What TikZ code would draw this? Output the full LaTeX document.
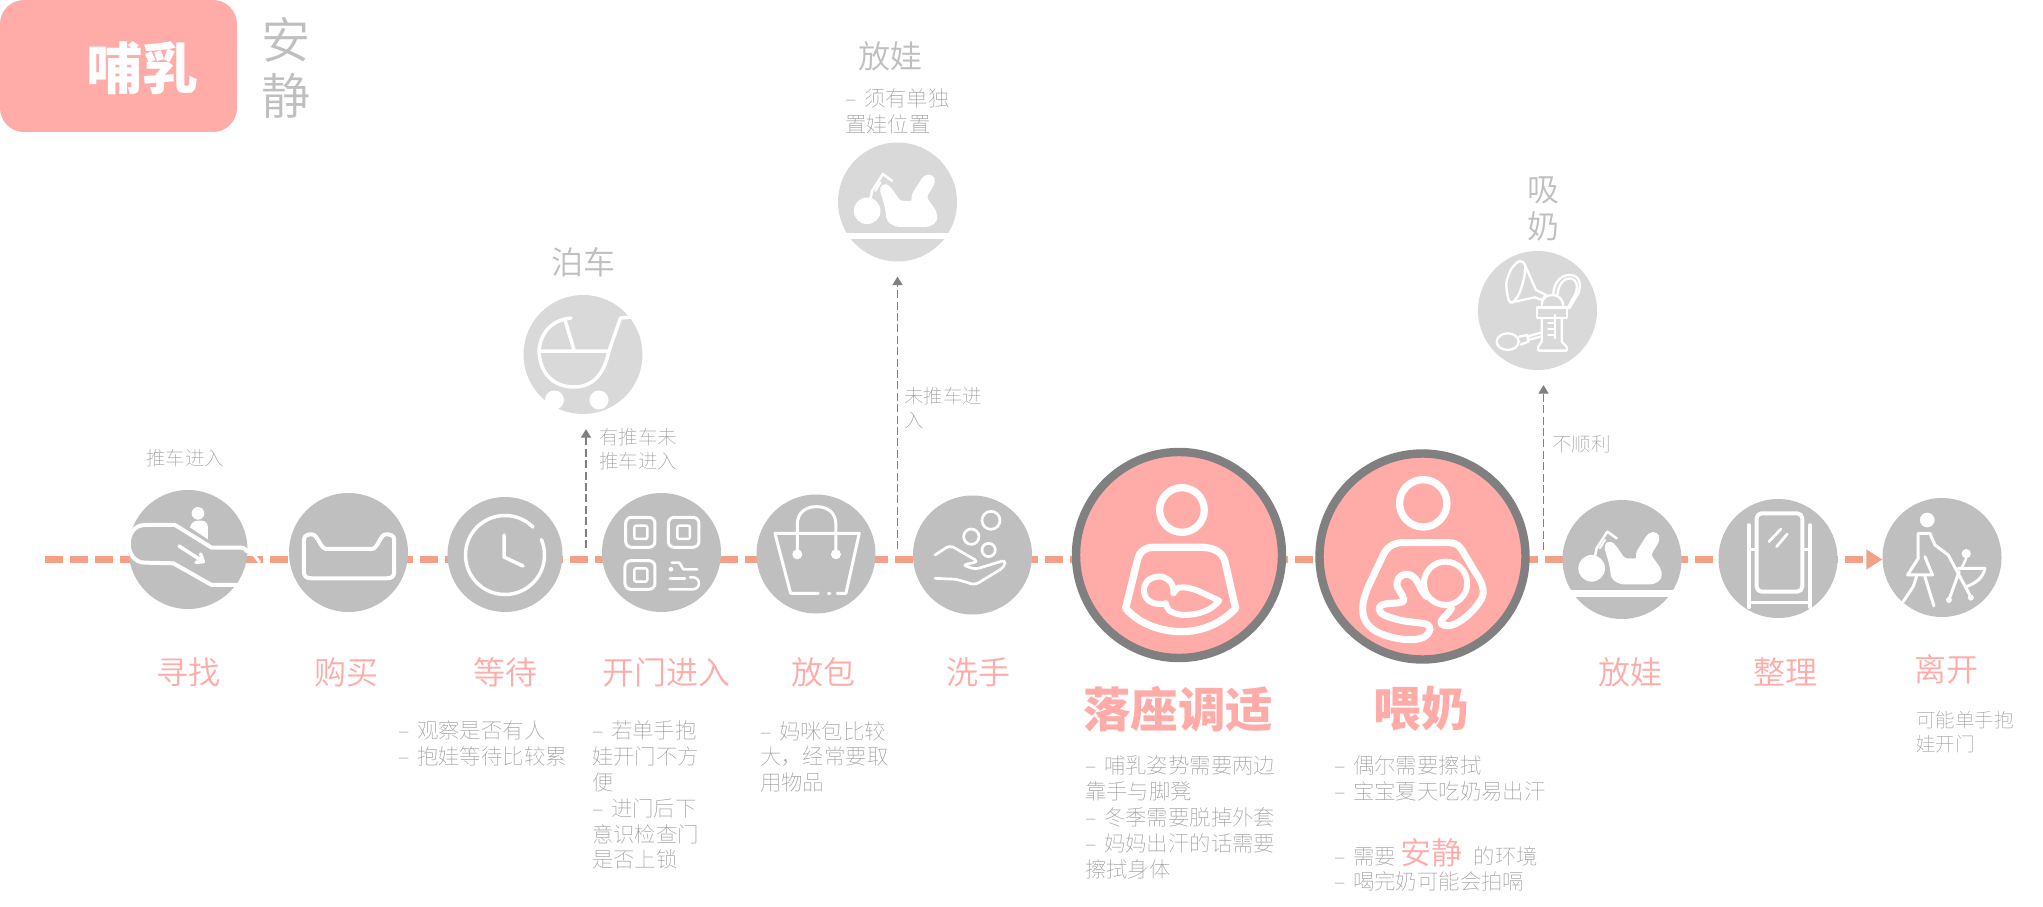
\documentclass[tikz,border=0pt]{standalone}
\usepackage{fontspec}
\usetikzlibrary{arrows.meta,backgrounds}
\setmainfont{Noto Sans CJK SC Thin}
\newfontfamily\cjkdemi{Noto Sans CJK SC DemiLight}
\newfontfamily\cjkbold{Noto Sans CJK SC Black}
\newdimen\pxd \newdimen\pxl
\newcommand{\pxf}[2]{\pxd=1.42264pt \pxd=#1\pxd \pxl=1.42264pt \pxl=#2\pxl \fontsize{\pxd}{\pxl}\selectfont}
\newcommand{\dl}{\makebox[0.89em][l]{–}}
\definecolor{pinkc}{HTML}{FFABA8}
\definecolor{grayc}{HTML}{BFBFBF}
\definecolor{satc}{HTML}{D9D9D9}
\definecolor{ringc}{HTML}{808080}
\definecolor{linec}{HTML}{F4A086}
\definecolor{txtc}{HTML}{999999}
\definecolor{hdc}{HTML}{BFBFBF}
\tikzset{
  base/.style={circle,inner sep=0pt,minimum size=5.95cm},
  stepc/.style={base,fill=grayc},
  satl/.style={base,fill=satc},
  bigc/.style={circle,inner sep=0pt,minimum size=10.3cm,fill=pinkc,draw=ringc,line width=.42cm},
  flow/.style={draw=linec,fill=linec,line width=.35cm,dash pattern=on .915cm off .335cm,-{Triangle[length=.8cm,width=.95cm,fill=linec]}},
  branch/.style={draw=ringc,line width=1.5pt,dash pattern=on .4cm off .17cm,-{Triangle[length=.42cm,width=.5cm,fill=ringc]},shorten >=.75cm},
  hd/.style={inner sep=0pt,text=hdc,font=\cjkdemi\pxf{32}{37}},
  note/.style={inner sep=0pt,text=txtc,align=left,anchor=north west,font=\pxf{19.5}{24}},
  detail/.style={inner sep=0pt,text=txtc,align=left,anchor=north west,font=\pxf{21.4}{25.8}},
  lab/.style={inner sep=0pt,text=pinkc,font=\cjkdemi\pxf{32}{37}},
  biglab/.style={inner sep=0pt,text=pinkc,font=\cjkbold\pxf{47.5}{50}},
  zoomed/.style={x=.016667cm,y=-.016667cm},
  ic/.style={draw=white,line width=#1*.05cm,line cap=round,line join=round},
  ic/.default=4
}
\newcommand{\babyicon}{%
  \fill[white] (125,265) circle [x radius=40,y radius=40];
  \filldraw[white,line width=.15cm,line join=round,rounded corners=5] (166,197) -- (180,186) -- (195,200) -- (222,240) -- (266,240) -- (260,222) -- (298,162) -- (320,160) -- (326,178) -- (298,225) -- (329,268) -- (332,294) -- (310,309) -- (212,309) -- (188,294) -- (183,255) -- cycle;
  \draw[ic=2.5] (135,228) -- (140,205) -- (172,155) -- (200,175);
  \draw[ic=2] (150,205) -- (165,180);
  \draw[white,line width=.32cm] (55,340) -- (378,340);
}
\begin{document}
\begin{tikzpicture}[x=.05cm,y=-.05cm]
\useasboundingbox (0,0) rectangle (2043,907);
% nodes : steps
\node[stepc] (find)  at (188,549.5) {};
\node[stepc] (buy)   at (348.5,552.5) {};
\node[base,fill=grayc,minimum size=5.75cm] (wait) at (505,554.5) {};
\node[stepc] (door)  at (661.5,552.5) {};
\node[stepc] (bag)   at (816,554) {};
\node[stepc] (wash)  at (972.5,555) {};
\node[bigc] (seat)   at (1179,555) {};
\node[bigc] (feed)   at (1422.5,556.5) {};
\node[stepc] (lay)   at (1622,559.5) {};
\node[stepc] (tidy)  at (1778,558.5) {};
\node[stepc] (leave) at (1942,557.5) {};
\node[satl] (stroller) at (583,354.5) {};
\node[satl] (place)    at (897.5,202) {};
\node[satl] (pump)     at (1537.5,310.5) {};
% connectors
\coordinate (start) at (45,559.5);
\coordinate (b1) at (586,548);
\coordinate (b2) at (897.5,549);
\coordinate (b3) at (1543.5,550);
\begin{scope}[on background layer]
  \fill[white] (0,0) rectangle (2043,907);
  \draw[flow] (start) -- (start -| leave.west);
\end{scope}
\draw[branch] (b1) -- (b1 |- stroller.south);
\draw[branch] (b2) -- (b2 |- place.south);
\draw[branch] (b3) -- (b3 |- pump.south);
% tile
\node[fill=pinkc,rounded corners=1.2cm,inner sep=0pt,minimum width=11.85cm,minimum height=6.6cm] (tile) at (118.5,66) {};
\node[inner sep=0pt,text=white,font=\cjkbold\pxf{56}{56}] (tt) at (142.5,68) {哺乳};
\node[inner sep=0pt,text=hdc,align=center,font=\cjkdemi\pxf{49}{56}] (quiet) at (286,67.5) {安\\静};
% top labels
\node[hd] (hstroller) at (583,262) {泊车};
\node[hd] (hplace) at (890,56) {放娃};
\node[hd,align=center] (hpump) at (1543,208.5) {吸\\奶};
\node[note,anchor=center] (n0) at (185,458) {推车进入};
\node[note] (n1) at (599,428) {有推车未\\推车进入};
\node[detail] (d0) at (845,88.5) {\dl 须有单独\\置娃位置};
\node[note] (n2) at (904,387) {未推车进\\入};
\node[note] (n3) at (1552,435) {不顺利};
% step labels
\node[lab] (l1) at (188,672) {寻找};
\node[lab] (l2) at (346.5,672) {购买};
\node[lab] (l3) at (505.5,672) {等待};
\node[lab] (l4) at (666,672) {开门进入};
\node[lab] (l5) at (823,672) {放包};
\node[lab] (l6) at (978,672) {洗手};
\node[biglab] (l7) at (1178,709) {落座调适};
\node[biglab] (l8) at (1421,709) {喂奶};
\node[lab] (l9) at (1630.5,672) {放娃};
\node[lab] (l10) at (1785.5,672) {整理};
\node[lab] (l11) at (1946.5,669.5) {离开};
% details
\node[detail] (d3) at (398,721) {\dl 观察是否有人\\\dl 抱娃等待比较累};
\node[detail] (d4) at (592,721) {\dl 若单手抱\\娃开门不方\\便\\\dl 进门后下\\意识检查门\\是否上锁};
\node[detail] (d5) at (760,721) {\dl 妈咪包比较\\大，经常要取\\用物品};
\node[detail] (d7) at (1085,756) {\dl 哺乳姿势需要两边\\靠手与脚凳\\\dl 冬季需要脱掉外套\\\dl 妈妈出汗的话需要\\擦拭身体};
\node[detail] (d8) at (1334,756) {\dl 偶尔需要擦拭\\\dl 宝宝夏天吃奶易出汗};
\node[detail,anchor=base west] (d8b) at (1334,864) {\dl 需要 {\cjkdemi\color{pinkc}\pxf{31}{30}安静} \hspace{.3em}的环境};
\node[detail] (d8c) at (1334,871) {\dl 喝完奶可能会拍嗝};
\node[note] (n11) at (1916,711) {可能单手抱\\娃开门};
% --- icons ---
% escalator
\begin{scope}[shift={(110,480)},zoomed]
  \draw[ic] (410,213) .. controls (408,205) and (400,203) .. (390,203) -- (305,203) -- (195,135) -- (105,135) .. controls (40,135) and (40,248) .. (105,248) -- (190,250) -- (305,315) -- (378,315);
  \draw[ic=3.5] (207,198) -- (280,245) (258,247) -- (280,245) -- (272,222);
  \fill[white] (264,100) circle [radius=19];
  \fill[white] (240,142) .. controls (245,125) and (255,122) .. (265,122) -- (275,122) .. controls (290,122) and (294,135) .. (294,145) -- (294,178) -- cycle;
  \draw[white,line width=.15cm] (430,222) -- (450,248);
\end{scope}
% sofa
\begin{scope}[shift={(110,480)},zoomed]
  \draw[ic] (582,180) .. controls (582,165) and (595,163) .. (605,163) .. controls (625,163) and (630,207) .. (650,207) -- (785,207) .. controls (805,207) and (810,163) .. (828,163) .. controls (840,163) and (853,165) .. (853,180) -- (853,275) .. controls (853,290) and (845,295) .. (830,295) -- (605,295) .. controls (590,295) and (582,290) .. (582,275) -- cycle;
\end{scope}
% clock
\draw[ic=3.5] plot[domain=-23:315,samples=90,smooth] ({505+39.5*cos(\x)},{555+39.5*sin(\x)});
\draw[ic=3.5] (504,535) -- (504,557) -- (523,566);
% QR
\begin{scope}[shift={(600,490)},zoomed]
  \draw[ic=3,rounded corners=.3cm] (77,82) rectangle (165,172);
  \draw[ic=2.5,rounded corners=.1cm] (103,107) rectangle (142,147);
  \draw[ic=3,rounded corners=.3cm] (205,82) rectangle (297,172);
  \draw[ic=2.5,rounded corners=.1cm] (232,107) rectangle (270,147);
  \draw[ic=3,rounded corners=.3cm] (75,212) rectangle (165,298);
  \draw[ic=2.5,rounded corners=.1cm] (103,235) rectangle (142,275);
  \fill[white] (213,238) circle [radius=7];
  \draw[ic=2.5] (215,218) -- (238,218) -- (250,238) -- (292,238);
  \draw[ic=2.5] (210,265) -- (255,265);
  \draw[ic=2.5,rounded corners=.3cm] (270,262) -- (297,262) -- (297,298) -- (208,298);
\end{scope}
% bag
\begin{scope}[shift={(600,490)},zoomed]
  \draw[ic=3] (592,190) -- (592,105) .. controls (592,65) and (620,50) .. (650,50) .. controls (680,50) and (708,65) .. (708,105) -- (708,190);
  \fill[white] (592,193) circle [radius=15] (708,193) circle [radius=15];
  \draw[ic=3] (655,310) -- (572,310) -- (525,130) -- (778,130) -- (738,310) -- (712,310);
  \draw[ic=3] (685,310) -- (690,310);
\end{scope}
% hand
\begin{scope}[shift={(910,490)},zoomed]
  \draw[ic=2.7] (243,91) circle [radius=27];
  \draw[ic=2.7] (184,140) circle [radius=23];
  \draw[ic=2.7] (236,180) circle [radius=20];
  \draw[ic=2.7,rounded corners=.2cm] (75,195) -- (120,166) -- (205,215) -- (158,225) -- (195,238) -- (288,210) -- (282,232) -- (195,285) -- (140,268) -- (75,265);
\end{scope}
% seated mother
\begin{scope}[shift={(1060,440)},zoomed]
  \draw[ic=7.3] (366,210) circle [radius=67];
  \draw[ic=7.3] (197,505) -- (232,362) .. controls (238,335) and (255,322) .. (280,322) -- (430,322) .. controls (470,325) and (488,340) .. (495,365) -- (527,505) .. controls (480,555) and (420,575) .. (365,575) .. controls (300,575) and (235,550) .. cycle;
  \draw[ic=6] (340,460) .. controls (345,430) and (320,408) .. (295,410) .. controls (265,412) and (250,430) .. (252,455) .. controls (255,485) and (285,498) .. (318,490) .. controls (320,505) and (325,520) .. (370,525) .. controls (420,525) and (455,510) .. (478,482) -- (430,460) .. controls (400,445) and (375,440) .. (355,443) -- (340,460);
\end{scope}
% feeding mother
\begin{scope}[shift={(1060,440)},zoomed]
  \draw[ic=7.3] (1090,190) circle [radius=71];
  \draw[ic=6] (1157,430) circle [radius=65];
  \draw[ic=7] (1175,505) .. controls (1160,530) and (1130,545) .. (1150,555) .. controls (1185,570) and (1250,510) .. (1268,470) .. controls (1275,445) and (1262,420) .. (1245,395) -- (1205,328) .. controls (1195,312) and (1180,308) .. (1165,308) -- (1030,308) .. controls (1005,308) and (985,315) .. (970,345) -- (925,440) .. controls (895,510) and (905,555) .. (960,580) .. controls (1020,605) and (1100,610) .. (1110,570) .. controls (1115,540) and (1060,555) .. (1000,535) .. controls (965,525) and (950,515) .. (962,497) .. controls (980,485) and (1030,495) .. (1032,480) .. controls (1030,460) and (1005,445) .. (1012,425) .. controls (1020,395) and (1060,395) .. (1075,430) .. controls (1082,445) and (1090,460) .. (1100,470);
\end{scope}
% lay baby
\begin{scope}[shift={(1550,480)},zoomed]
  \babyicon
\end{scope}
\begin{scope}[shift={(825.5,122.5)},zoomed]
  \babyicon
\end{scope}
% mirror
\begin{scope}[shift={(1550,480)},zoomed]
  \draw[ic=4,rounded corners=.25cm] (620,100) rectangle (757,335);
  \draw[ic=2.7] (657,185) -- (693,147) (680,200) -- (712,162);
  \draw[ic=3.5] (597,135) -- (597,382) (780,135) -- (780,382);
  \draw[ic=3,line cap=butt] (597,210) -- (620,210) (757,210) -- (780,210) (597,368) -- (780,368);
\end{scope}
% leave
\begin{scope}[shift={(1550,480)},zoomed]
  \fill[white] (1132,120) circle [radius=22] (1249,221) circle [radius=14];
  \draw[ic=3] (1105,235) -- (1105,160) -- (1140,160) -- (1155,195) -- (1195,225) -- (1265,355);
  \draw[ic=3] (1105,235) -- (1073,285) -- (1148,285) -- (1125,230);
  \draw[ic=3] (1100,290) -- (1090,320) -- (1060,365);
  \draw[ic=3] (1125,290) -- (1152,378);
  \draw[ic=3] (1225,265) -- (1305,265) .. controls (1300,295) and (1275,310) .. (1250,320);
  \draw[ic=3] (1228,275) -- (1197,360);
  \draw[ic=2.5] (1249,235) -- (1235,265);
  \fill[white] (1197,360) circle [radius=9] (1263,353) circle [radius=9];
\end{scope}
% stroller
\draw[ic=3.5] (571,318) .. controls (550,320) and (540,335) .. (539,351) -- (609,351) -- (620.5,318) -- (632,317);
\draw[ic=3.5] (539,351) .. controls (540,375) and (555,387) .. (574,387) .. controls (592,387) and (604,375) .. (609,351);
\draw[ic=3.5] (565,320) -- (574,350);
\fill[white] (554.5,400) circle [radius=9.5] (599,400) circle [radius=9.5];
% pump
\begin{scope}[shift={(1470,240)},zoomed]
  \draw[ic=2.3] plot[smooth cycle] coordinates {(150,63) (125,85) (109,130) (116,180) (128,187) (148,160) (163,110) (165,75)};
  \draw[ic=2.3] (165,75) -- (198,150) -- (228,165) -- (215,180) -- (195,172) -- (125,187);
  \draw[ic=2.3] (215,195) .. controls (215,175) and (230,165) .. (247,165) .. controls (265,165) and (280,178) .. (280,198);
  \draw[ic=2.3] (250,165) .. controls (250,125) and (275,105) .. (300,105) .. controls (330,105) and (335,135) .. (325,160) -- (298,205);
  \draw[ic=2.3] (262,165) .. controls (265,135) and (280,115) .. (300,115) .. controls (320,115) and (325,140) .. (318,158) -- (293,205);
  \draw[ic=2.3] (200,203) rectangle (292,235);
  \draw[ic=2.3] (215,235) -- (215,305) -- (205,320) -- (205,332) -- (290,332) -- (290,320) -- (275,305) -- (275,235);
  \draw[ic=2.3] (255,225) -- (255,295) (235,250) -- (255,250) (235,268) -- (255,268) (235,285) -- (255,285);
  \draw[ic=2.3] (113,305) ellipse [x radius=33,y radius=25];
  \draw[ic=2.3] (148,290) -- (172,285) -- (175,305) -- (152,314);
  \draw[ic=2.3] (172,290) -- (212,278) (175,300) -- (212,290);
\end{scope}
\end{tikzpicture}
\end{document}
